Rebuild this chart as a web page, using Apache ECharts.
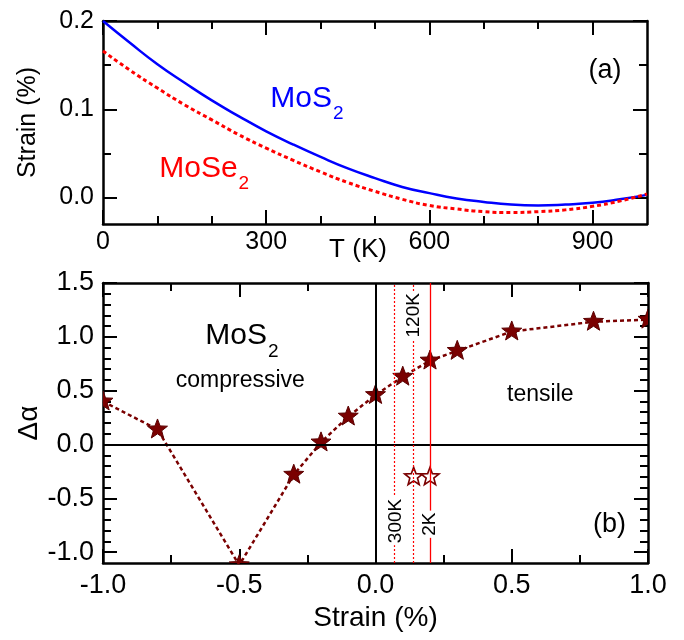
<!DOCTYPE html>
<html><head><meta charset="utf-8">
<script src="https://cdn.jsdelivr.net/npm/echarts@6/dist/echarts.min.js"></script>
<style>html,body{margin:0;padding:0;background:#fff}#c{width:684px;height:640px}</style>
</head><body><div id="c"></div>
<script>
// ---------- Panel (a): strain vs temperature ----------
const tempK = [0,50,100,150,200,250,300,350,400,450,500,550,600,650,700,750,800,850,900,950,1000];
const strainMoS2 = [0.200,0.175,0.151,0.130,0.110,0.092,0.075,0.060,0.046,0.033,0.022,0.012,0.005,-0.001,-0.005,-0.008,-0.009,-0.008,-0.006,-0.002,0.003];
const strainMoSe2 = [0.166,0.144,0.124,0.105,0.088,0.071,0.056,0.042,0.029,0.017,0.007,-0.002,-0.009,-0.013,-0.016,-0.017,-0.016,-0.014,-0.010,-0.004,0.004];
const aXMajor = [0,300,600,900];
const aXMinor = [100,200,400,500,700,800];
const aYMajor = [0,0.1,0.2];
const aYMinor = [0.05,0.15];

// ---------- Panel (b): delta alpha vs strain ----------
const strainPct = [-1.0,-0.8,-0.5,-0.3,-0.2,-0.1,0.0,0.1,0.2,0.3,0.5,0.8,1.0];
const deltaAlpha = [0.40,0.14,-1.12,-0.28,0.02,0.26,0.46,0.63,0.78,0.87,1.05,1.14,1.16];
const openStrain = [0.14,0.20];
const openDelta = [-0.30,-0.30];
const tempLineStrain = [0.075,0.14,0.20];
const tempLineNames = ['300K','120K','2K'];
const bXMajor = [-1,-0.5,0,0.5,1];
const bXMinor = [-0.75,-0.25,0.25,0.75];
const bYMajor = [-1,-0.5,0,0.5,1,1.5];
const bYMinor = [-0.9,-0.8,-0.7,-0.6,-0.4,-0.3,-0.2,-0.1,0.1,0.2,0.3,0.4,0.6,0.7,0.8,0.9,1.1,1.2,1.3,1.4];

const FONT = 'Liberation Sans, Arial, sans-serif';
const MAROON = '#7a0000';

function zip(a, b) { return a.map((v, i) => [v, b[i]]); }

function makeAxes(dim, gridIndex, min, max, major, minor, labelOpt, nameOpt) {
  const pos = dim === 'x' ? ['bottom', 'top'] : ['left', 'right'];
  const base = () => ({
    type: 'value', gridIndex, min, max,
    splitLine: { show: false },
    axisLine: { show: false, onZero: false },
    axisLabel: { show: false },
    axisTick: { show: false }
  });
  const tick = (vals, len) => ({ show: true, inside: true, length: len, customValues: vals, lineStyle: { color: '#000', width: 2 } });
  const line = { show: true, onZero: false, lineStyle: { color: '#000', width: 2.5 } };
  const main = Object.assign(base(), {
    position: pos[0], axisLine: line, axisTick: tick(major, 14),
    axisLabel: Object.assign({ show: true, customValues: major, fontFamily: FONT, color: '#000' }, labelOpt)
  }, nameOpt || {});
  const mainMinor = Object.assign(base(), { position: pos[0], axisTick: tick(minor, 8) });
  const mirror = Object.assign(base(), { position: pos[1], axisLine: line, axisTick: tick(major, 14) });
  const mirrorMinor = Object.assign(base(), { position: pos[1], axisTick: tick(minor, 8) });
  return [main, mainMinor, mirror, mirrorMinor];
}

const xAxes = [].concat(
  makeAxes('x', 0, 0, 1000, aXMajor, aXMinor,
    { fontSize: 25, margin: 6, formatter: v => String(Math.round(v)) },
    { name: 'T (K)', nameLocation: 'middle', nameGap: 13, nameMoveOverlap: false,
      nameTextStyle: { fontSize: 26, fontFamily: FONT, color: '#000', padding: [0, 34, 0, 0] } }),
  makeAxes('x', 1, -1, 1, bXMajor, bXMinor,
    { fontSize: 27, margin: 9, formatter: v => v.toFixed(1) },
    { name: 'Strain (%)', nameLocation: 'middle', nameGap: 41, nameMoveOverlap: false,
      nameTextStyle: { fontSize: 28, fontFamily: FONT, color: '#000' } })
);
const yAxes = [].concat(
  makeAxes('y', 0, -0.03, 0.2, aYMajor, aYMinor,
    { fontSize: 25, margin: 9, formatter: v => v.toFixed(1) },
    { name: 'Strain (%)', nameLocation: 'middle', nameGap: 62, nameMoveOverlap: false,
      nameTextStyle: { fontSize: 25, fontFamily: FONT, color: '#000' } }),
  makeAxes('y', 1, -1.1, 1.5, bYMajor, bYMinor,
    { fontSize: 27, margin: 9, formatter: v => v.toFixed(1) },
    { name: 'Δα', nameLocation: 'middle', nameGap: 60, nameMoveOverlap: false,
      nameTextStyle: { fontSize: 28, fontFamily: FONT, color: '#000' } })
);

function starItem(fill, stroke, R, lw) {
  return function (params, api) {
    const p = api.coord([api.value(0), api.value(1)]);
    const pts = [];
    for (let k = 0; k < 10; k++) {
      const rad = k % 2 === 0 ? R : R * 0.42;
      const a = -Math.PI / 2 + k * Math.PI / 5;
      pts.push([p[0] + rad * Math.cos(a), p[1] + rad * Math.sin(a)]);
    }
    return { type: 'polygon', shape: { points: pts }, style: { fill: fill, stroke: stroke, lineWidth: lw } };
  };
}

function textSeries(xi, yi, pt, formatter, style, rich, rotate) {
  return {
    type: 'scatter', xAxisIndex: xi, yAxisIndex: yi, symbolSize: 0, silent: true, z: 6,
    itemStyle: { opacity: 1 },
    data: [pt],
    label: Object.assign({ show: true, position: 'inside', opacity: 1, formatter: formatter, rich: rich, rotate: rotate || 0 }, style)
  };
}
function subRich(color, big, small, pad) {
  return {
    m: { fontSize: big, fontFamily: FONT, color: color, opacity: 1 },
    s: { fontSize: small, fontFamily: FONT, color: color, opacity: 1, padding: [pad, 0, 0, 1] }
  };
}

const series = [
  // panel (a)
  { type: 'line', xAxisIndex: 0, yAxisIndex: 0, data: zip(tempK, strainMoS2), smooth: true, symbol: 'none',
    lineStyle: { color: '#0000ff', width: 2.5 } },
  { type: 'line', xAxisIndex: 0, yAxisIndex: 0, data: zip(tempK, strainMoSe2), smooth: true, symbol: 'none',
    lineStyle: { color: '#ff0000', width: 3, type: [4, 3] } },
  textSeries(0, 0, [375, 0.112], '{m|MoS}{s|2}', {}, subRich('#0000ff', 30, 19, 30)),
  textSeries(0, 0, [186, 0.033], '{m|MoSe}{s|2}', {}, subRich('#ff0000', 30, 19, 30)),
  textSeries(0, 0, [923, 0.144], '(a)', { fontSize: 27, fontFamily: FONT, color: '#000' }),
  // panel (b)
  { type: 'line', xAxisIndex: 4, yAxisIndex: 4, data: zip(strainPct, deltaAlpha), symbol: 'none',
    lineStyle: { color: MAROON, width: 2.5, type: [4, 3] },
    markLine: {
      silent: true, symbol: ['none', 'none'], label: { show: false }, animation: false,
      data: [
        { xAxis: 0, lineStyle: { color: '#000', width: 2, type: 'solid' } },
        { yAxis: 0, lineStyle: { color: '#000', width: 2, type: 'solid' } }
      ].concat(tempLineStrain.map((v, i) => ({
        xAxis: v, lineStyle: { color: '#ff0000', width: i === 2 ? 1.3 : 1.2, type: i === 2 ? 'solid' : [2, 2] }
      })))
    } },
  { type: 'custom', xAxisIndex: 4, yAxisIndex: 4, clip: true, z: 4,
    data: zip(strainPct, deltaAlpha), renderItem: starItem(MAROON, '#5a0000', 10.5, 1) },
  { type: 'custom', xAxisIndex: 4, yAxisIndex: 4, clip: true, z: 4,
    data: zip(openStrain, openDelta), renderItem: starItem('#ffffff', MAROON, 9.5, 1.6) },
  textSeries(4, 4, [tempLineStrain[0], -0.71], tempLineNames[0],
    { fontSize: 19, fontFamily: FONT, color: '#000', backgroundColor: '#fff', padding: [0, 2] }, null, 90),
  textSeries(4, 4, [tempLineStrain[1], 1.2], tempLineNames[1],
    { fontSize: 19, fontFamily: FONT, color: '#000', backgroundColor: '#fff', padding: [0, 2] }, null, 90),
  textSeries(4, 4, [tempLineStrain[2], -0.74], tempLineNames[2],
    { fontSize: 19, fontFamily: FONT, color: '#000', backgroundColor: '#fff', padding: [0, 2] }, null, 90),
  textSeries(4, 4, [-0.49, 1.014], '{m|MoS}{s|2}', {}, subRich('#000', 30, 19, 32)),
  textSeries(4, 4, [-0.496, 0.59], 'compressive', { fontSize: 23, fontFamily: FONT, color: '#000' }),
  textSeries(4, 4, [0.605, 0.46], 'tensile', { fontSize: 23, fontFamily: FONT, color: '#000' }),
  textSeries(4, 4, [0.859, -0.747], '(b)', { fontSize: 27, fontFamily: FONT, color: '#000' })
];

const chart = echarts.init(document.getElementById('c'), null, { renderer: 'canvas' });
chart.setOption({
  animation: false,
  backgroundColor: '#fff',
  grid: [
    { left: 103, top: 21, width: 544, height: 203, outerBoundsMode: 'none' },
    { left: 103, top: 283, width: 545, height: 280, outerBoundsMode: 'none' }
  ],
  xAxis: xAxes,
  yAxis: yAxes,
  series: series
});
</script></body></html>
